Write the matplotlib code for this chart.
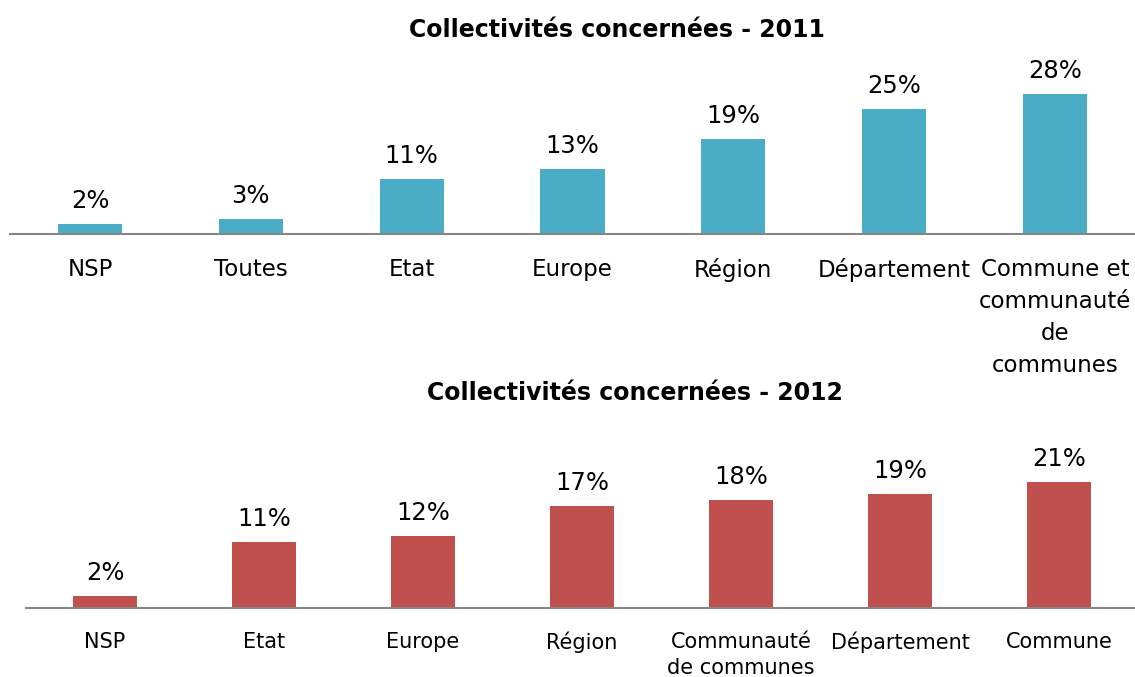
import matplotlib.pyplot as plt

cats_2011 = ["NSP", "Toutes", "Etat", "Europe", "Région", "Département",
             "Commune et\ncommunauté\nde\ncommunes"]
vals_2011 = [2, 3, 11, 13, 19, 25, 28]

cats_2012 = ["NSP", "Etat", "Europe", "Région", "Communauté\nde communes",
             "Département", "Commune"]
vals_2012 = [2, 11, 12, 17, 18, 19, 21]

plt.rcParams['font.family'] = ['DejaVu Sans']

W, H = 1135, 677
fig = plt.figure(figsize=(W / 100, H / 100), dpi=100)

def px_axes(left, right, base, top):
    return fig.add_axes([left / W, (H - base) / H, (right - left) / W, (base - top) / H])

def draw(ax, cats, vals, color, fs, pfs, ymax, lsp, pad):
    x = range(len(cats))
    ax.bar(x, vals, width=0.4, color=color)
    for i, v in zip(x, vals):
        ax.annotate(f"{v}%", (i, v), xytext=(0, 8), textcoords="offset points",
                    ha="center", va="bottom", fontsize=pfs)
    ax.set_xlim(-0.5, len(cats) - 0.5)
    ax.set_ylim(0, ymax)
    ax.set_xticks(list(x))
    ax.set_xticklabels(cats, fontsize=fs, linespacing=lsp)
    ax.tick_params(axis="x", length=0, pad=pad)
    ax.set_yticks([])
    for s in ["top", "left", "right"]:
        ax.spines[s].set_visible(False)
    ax.spines["bottom"].set_color("#868686")
    ax.spines["bottom"].set_linewidth(1.5)

ax1 = px_axes(9.6, 1135.4, 234, 84)
draw(ax1, cats_2011, vals_2011, "#4BACC6", 16.5, 17.5, 30, 1.5, 17)
fig.text(617 / W, 1 - 30 / H, "Collectivités concernées - 2011", ha="center",
         va="center", fontsize=17, fontweight="bold")

ax2 = px_axes(25.5, 1138.5, 608, 476)
draw(ax2, cats_2012, vals_2012, "#C0504D", 15, 17.5, 22, 1.4, 17)
fig.text(635 / W, 1 - 393 / H, "Collectivités concernées - 2012", ha="center",
         va="center", fontsize=17, fontweight="bold")

fig.savefig("out.png", dpi=100)
